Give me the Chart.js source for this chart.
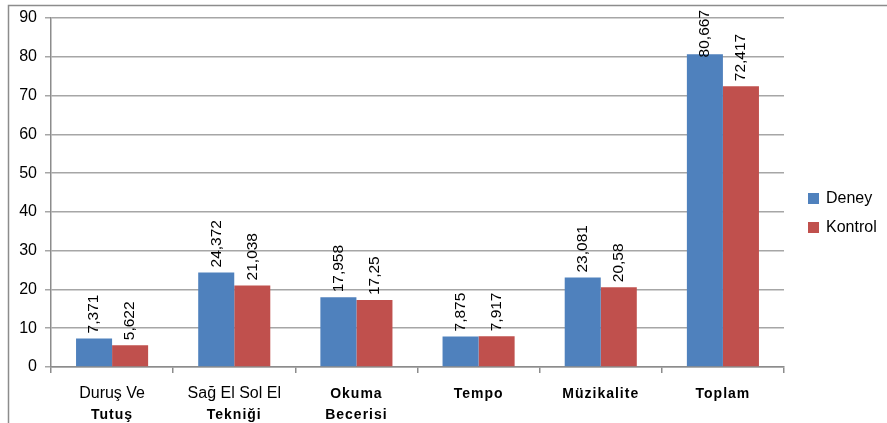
<!DOCTYPE html>
<html>
<head>
<meta charset="utf-8">
<script src="https://cdn.jsdelivr.net/npm/chart.js@4.4.1/dist/chart.umd.min.js"></script>
<style>
  html, body { margin: 0; padding: 0; background: #fff; }
  #wrap { width: 887px; height: 423px; position: relative; }
</style>
</head>
<body>
<div id="wrap"><canvas id="c"></canvas></div>
<script>
// chart data
const categories = [
  ['Duruş Ve', 'Tutuş'],
  ['Sağ El Sol El', 'Tekniği'],
  ['Okuma', 'Becerisi'],
  ['Tempo'],
  ['Müzikalite'],
  ['Toplam'],
];
const deney = [7.371, 24.372, 17.958, 7.875, 23.081, 80.667];
const kontrol = [5.622, 21.038, 17.25, 7.917, 20.58, 72.417];
const deneyText = ['7,371', '24,372', '17,958', '7,875', '23,081', '80,667'];
const kontrolText = ['5,622', '21,038', '17,25', '7,917', '20,58', '72,417'];
const seriesNames = ['Deney', 'Kontrol'];
const yTicks = [0, 10, 20, 30, 40, 50, 60, 70, 80, 90];

const COLORS = {
  deney: '#4f81bd',
  kontrol: '#c0504d',
  grid: '#a6a6a6',
  border: '#8c8c8c',
  text: '#000',
};
const FONT = '"Liberation Sans", Arial, sans-serif';
// first line of these categories is drawn in regular weight, the rest bold
const regularFirstLine = [true, true, false, false, false, false];

const frame = {
  id: 'frame',
  beforeDraw(chart) {
    const c = chart.ctx;
    c.save();
    c.strokeStyle = COLORS.border;
    c.lineWidth = 1.5;
    c.beginPath();
    c.moveTo(887, 5.5);
    c.lineTo(8.5, 5.5);
    c.lineTo(8.5, 423);
    c.stroke();
    c.restore();
  },
};

const valueLabels = {
  id: 'valueLabels',
  afterDatasetsDraw(chart) {
    const c = chart.ctx;
    const texts = [deneyText, kontrolText];
    c.save();
    c.fillStyle = COLORS.text;
    c.font = '15.5px ' + FONT;
    c.textAlign = 'left';
    c.textBaseline = 'middle';
    chart.data.datasets.forEach((ds, di) => {
      chart.getDatasetMeta(di).data.forEach((bar, i) => {
        const t = texts[di][i];
        const w = c.measureText(t).width;
        // keep the label inside the plot, as the original does for the tallest bar
        const start = Math.max(bar.y - 5, 10 + w);
        c.save();
        c.translate(bar.x, start);
        c.rotate(-Math.PI / 2);
        c.fillText(t, 0, 0);
        c.restore();
      });
    });
    c.restore();
  },
};

const xLabels = {
  id: 'xLabels',
  afterDraw(chart) {
    const c = chart.ctx;
    const xs = chart.scales.x;
    c.save();
    c.fillStyle = COLORS.text;
    c.textAlign = 'center';
    c.textBaseline = 'middle';
    categories.forEach((lines, i) => {
      const x = xs.getPixelForValue(i);
      lines.forEach((t, li) => {
        const regular = li === 0 && regularFirstLine[i];
        c.font = regular ? '16px ' + FONT : 'bold 14px ' + FONT;
        c.letterSpacing = regular ? '0px' : '1px';
        c.fillText(t, x, 394 + li * 21);
      });
    });
    c.restore();
  },
};

const legendBox = {
  id: 'legendBox',
  afterDraw(chart) {
    const c = chart.ctx;
    const cols = [COLORS.deney, COLORS.kontrol];
    c.save();
    c.font = '16px ' + FONT;
    c.textBaseline = 'middle';
    c.textAlign = 'left';
    seriesNames.forEach((n, i) => {
      const y = 198 + i * 29;
      c.fillStyle = cols[i];
      c.fillRect(808, y - 5, 11, 11);
      c.fillStyle = COLORS.text;
      c.fillText(n, 826, y + 1);
    });
    c.restore();
  },
};

new Chart(document.getElementById('c'), {
  type: 'bar',
  data: {
    labels: categories.map(l => l.join(' ')),
    datasets: [
      { label: seriesNames[0], data: deney, backgroundColor: COLORS.deney },
      { label: seriesNames[1], data: kontrol, backgroundColor: COLORS.kontrol },
    ],
  },
  options: {
    responsive: true,
    maintainAspectRatio: false,
    animation: false,
    layout: { padding: { top: 18, right: 103, left: 0, bottom: 0 } },
    plugins: {
      legend: { display: false },
      tooltip: { enabled: false },
    },
    datasets: {
      bar: { categoryPercentage: 0.59, barPercentage: 1 },
    },
    scales: {
      x: {
        ticks: { display: false },
        grid: {
          display: true,
          drawOnChartArea: false,
          offset: true,
          color: COLORS.border,
          tickLength: 6,
          lineWidth: 1.5,
        },
        border: { color: COLORS.border, width: 1.5 },
        afterFit: s => { s.height = 56; },
      },
      y: {
        min: 0,
        max: 90,
        afterBuildTicks: s => { s.ticks = yTicks.map(v => ({ value: v })); },
        ticks: {
          color: COLORS.text,
          font: { family: FONT, size: 16 },
          padding: 8,
        },
        grid: { color: COLORS.grid, lineWidth: 1.5, tickLength: 6 },
        border: { color: COLORS.border, width: 1.5 },
        afterFit: s => { s.width = 51; },
      },
    },
  },
  plugins: [frame, valueLabels, xLabels, legendBox],
});
</script>
</body>
</html>
